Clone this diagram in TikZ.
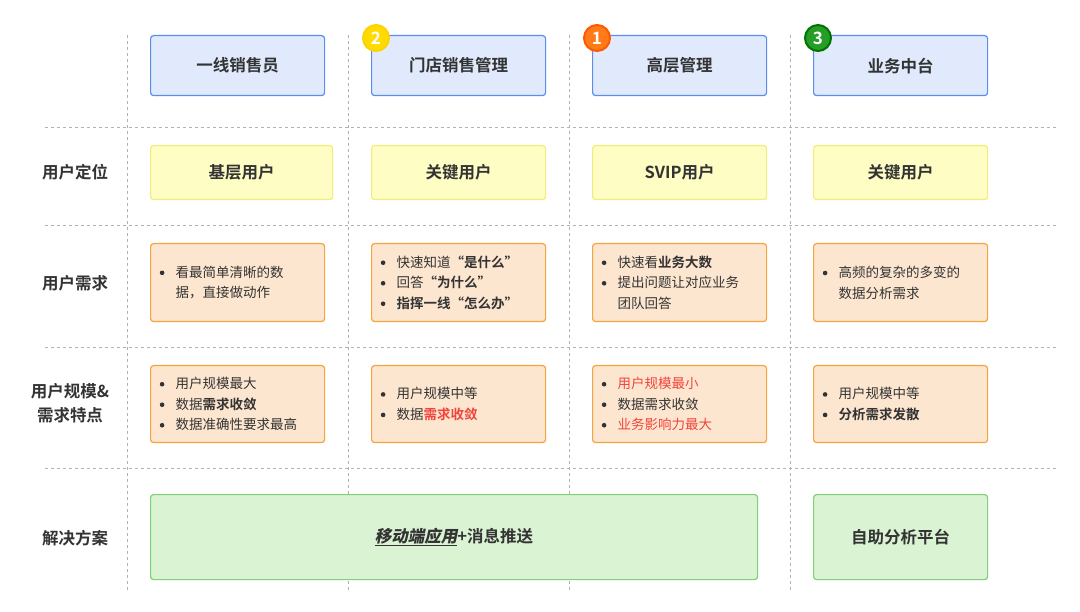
\documentclass[tikz,border=0pt]{standalone}
\usepackage{fontspec}
\setmainfont{Noto Sans CJK SC}[BoldFont={Noto Sans CJK SC Bold}]
\newfontfamily\slcjk{Noto Sans CJK SC Bold}[FakeSlant=0.2]
\usetikzlibrary{positioning}
\definecolor{tx}{HTML}{333333}
\definecolor{hdfill}{HTML}{E1EAFD}
\definecolor{hddraw}{HTML}{5B8DEF}
\definecolor{ylfill}{HTML}{FDFDC4}
\definecolor{yldraw}{HTML}{F2EC7A}
\definecolor{orfill}{HTML}{FDE6CF}
\definecolor{ordraw}{HTML}{F5A43F}
\definecolor{grfill}{HTML}{D9F3D3}
\definecolor{grdraw}{HTML}{7FD077}
\definecolor{rd}{HTML}{F0443C}
\newcommand{\dotmark}{\tikz[baseline={(0,-4.5pt)}]{\useasboundingbox (-2.5pt,-2.5pt) rectangle (2.5pt,2.5pt); \fill[tx] (0,0) circle [radius=2.3pt];}}
\newcommand{\itm}[1]{\makebox[16pt][l]{\dotmark}#1}
\newcommand{\cnt}[1]{\hspace*{16pt}#1}
\tikzset{
  box/.style={rounded corners=3pt, line width=1.2pt, text=tx, anchor=north west},
  hd/.style={box, fill=hdfill, draw=hddraw, minimum width=174pt, minimum height=60pt, font=\bfseries\fontsize{16.5}{20}\selectfont},
  yl/.style={box, fill=ylfill, draw=yldraw, minimum width=174pt, minimum height=54pt, font=\bfseries\fontsize{16.5}{20}\selectfont},
  nd/.style={box, fill=orfill, draw=ordraw, minimum width=174pt, font=\fontsize{13.5}{20.5}\selectfont, align=left, text width=156pt},
  gr/.style={box, fill=grfill, draw=grdraw, minimum height=85pt, font=\bfseries\fontsize{16.5}{20}\selectfont},
  lbl/.style={text=tx, font=\bfseries\fontsize{16.5}{24}\selectfont, align=center},
  sep/.style={draw=gray!60, line width=0.9pt, dash pattern=on 3pt off 3pt},
  badge/.style={circle, minimum size=26pt, inner sep=0pt, line width=2pt, text=white, font=\bfseries\fontsize{17}{17}\selectfont}
}
\begin{document}
\begin{tikzpicture}[x=1pt,y=-1pt]
\useasboundingbox[fill=white] (0,0) rectangle (1080,612);
% grid
\foreach \x in {127,348,569,790} \draw[sep] (\x,35) -- (\x,592);
\foreach \y in {127,225,347,468} \draw[sep] (45,\y) -- (1057,\y);
% header
\node[hd] (h1) at (150,35) {一线销售员};
\node[hd] (h2) at (371,35) {门店销售管理};
\node[hd] (h3) at (592,35) {高层管理};
\node[hd] (h4) at (813,35) {业务中台};
\node[badge, fill=orange!20!yellow!90!orange, draw=yellow!70!orange] (b2) at (376,38) {2};
\node[badge, fill=orange!85!red!90, draw=orange!70!red] (b1) at (597,38) {1};
\node[badge, fill=green!55!black!85, draw=green!45!black] (b3) at (818,38) {3};
% row labels
\node[lbl] (l1) at (75,172) {用户定位};
\node[lbl] (l2) at (75,283) {用户需求};
\node[lbl] (l3) at (70,403) {用户规模\&\\需求特点};
\node[lbl] (l4) at (75,538) {解决方案};
% positioning
\node[yl, minimum width=182pt] (p1) at (150,145) {基层用户};
\node[yl] (p2) at (371,145) {关键用户};
\node[yl] (p3) at (592,145) {SVIP用户};
\node[yl] (p4) at (813,145) {关键用户};
% needs
\node[nd, minimum height=78pt] (n1) at (150,243) {\itm{看最简单清晰的数}\\\cnt{据，直接做动作}};
\node[nd, minimum height=78pt] (n2) at (371,243) {\itm{快速知道\textbf{“是什么”}}\\\itm{回答\textbf{“为什么”}}\\\itm{\textbf{指挥一线“怎么办”}}};
\node[nd, minimum height=78pt] (n3) at (592,243) {\itm{快速看\textbf{业务大数}}\\\itm{提出问题让对应业务}\\\cnt{团队回答}};
\node[nd, minimum height=78pt] (n4) at (813,243) {\itm{高频的复杂的多变的}\\\cnt{数据分析需求}};
% scale
\node[nd, minimum height=77pt] (s1) at (150,365) {\itm{用户规模最大}\\\itm{数据\textbf{需求收敛}}\\\itm{数据准确性要求最高}};
\node[nd, minimum height=77pt] (s2) at (371,365) {\itm{用户规模中等}\\\itm{数据\textcolor{rd}{\textbf{需求收敛}}}};
\node[nd, minimum height=77pt] (s3) at (592,365) {\itm{\textcolor{rd}{用户规模最小}}\\\itm{数据需求收敛}\\\itm{\textcolor{rd}{业务影响力最大}}};
\node[nd, minimum height=77pt] (s4) at (813,365) {\itm{用户规模中等}\\\itm{\textbf{分析需求发散}}};
% solutions
\node[gr, minimum width=607pt] (g1) at (150,494) {\underline{\slcjk 移动端应用}+消息推送};
\node[gr, minimum width=174pt] (g2) at (813,494) {自助分析平台};
\end{tikzpicture}
\end{document}
